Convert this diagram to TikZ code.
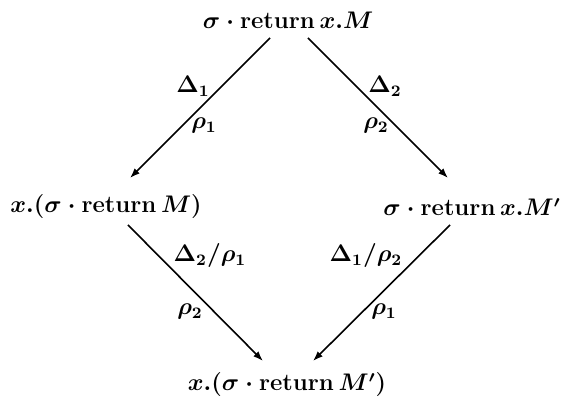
\documentclass[tikz,border=0pt]{standalone}
\usepackage{amsmath}
\usepackage{amssymb}
\usepackage{tikz}
\usetikzlibrary{arrows.meta,calc}

\newcommand{\ret}{\mathbf{return}}

\begin{document}
\begin{tikzpicture}[
      x=0.5pt, y=-0.5pt,
      term/.style={inner sep=0pt, font=\large\boldmath},
      lbl/.style={inner sep=0pt, font=\large\boldmath},
      redux/.style={line width=0.8pt, -{Latex[length=5pt, width=3.6pt]}}
    ]
      \useasboundingbox (0,0) rectangle (564,400);

      % the four terms
      \node[term] (top) at (288,20) {$\sigma\cdot\ret\,x.M$};
      \node[term] (left) at (106,207) {$x.(\sigma\cdot\ret\,M)$};
      \node[term] (right) at (472,207) {$\sigma\cdot\ret\,x.M'$};
      \node[term] (bot) at (287,385) {$x.(\sigma\cdot\ret\,M')$};

      % upper reductions
      \draw[redux] ($(top.center)+(-18,18)$) -- ($(left.center)+(24,-29)$);
      \draw[redux] ($(top.center)+(20,18)$) -- ($(right.center)+(-24,-29)$);
      \node[lbl] (d1) at (193,86) {$\Delta_1$};
      \node[lbl] (r1) at (204,126) {$\rho_1$};
      \node[lbl] (d2) at (385,86) {$\Delta_2$};
      \node[lbl] (r2) at (376,126) {$\rho_2$};

      % lower reductions
      \draw[redux] ($(left.center)+(22,18)$) -- ($(bot.center)+(-24,-24)$);
      \draw[redux] ($(right.center)+(-22,18)$) -- ($(bot.center)+(26,-24)$);
      \node[lbl] (d2r1) at (210,256) {$\Delta_2/\rho_1$};
      \node[lbl] (r2b) at (190,312) {$\rho_2$};
      \node[lbl] (d1r2) at (366,256) {$\Delta_1/\rho_2$};
      \node[lbl] (r1b) at (384,312) {$\rho_1$};
    \end{tikzpicture}
\end{document}
